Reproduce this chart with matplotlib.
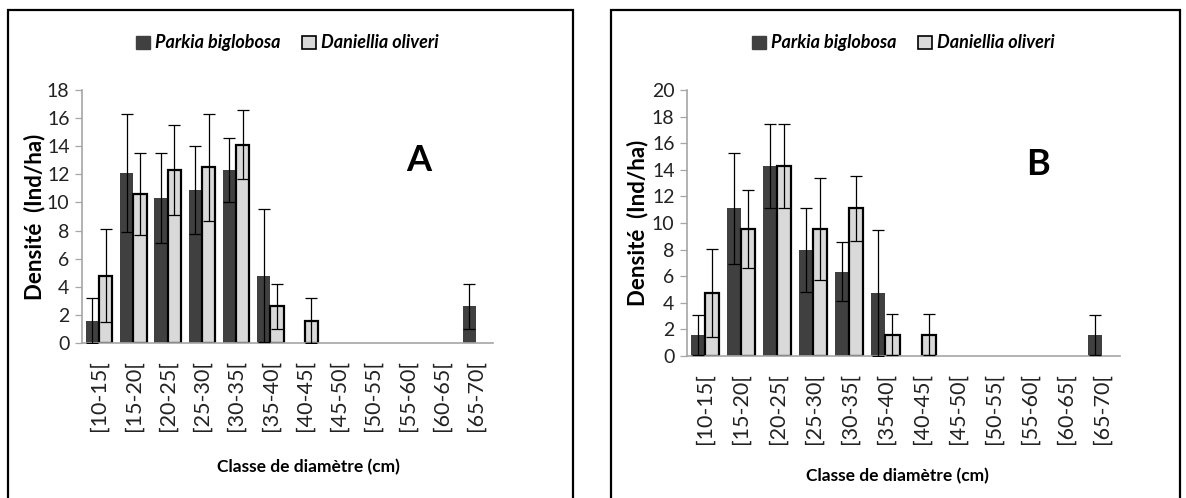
import numpy as np
import matplotlib
matplotlib.use('Agg')
import matplotlib.pyplot as plt
from matplotlib.patches import Rectangle

# data
classes = ['[10-15[', '[15-20[', '[20-25[', '[25-30[', '[30-35[', '[35-40[',
           '[40-45[', '[45-50[', '[50-55[', '[55-60[', '[60-65[', '[65-70[']

parkia_a = [1.6, 12.1, 10.3, 10.9, 12.3, 4.8, 0, 0, 0, 0, 0, 2.6]
parkia_a_err = [1.6, 4.2, 3.2, 3.15, 2.25, 4.7, 0, 0, 0, 0, 0, 1.6]
daniellia_a = [4.8, 10.6, 12.3, 12.5, 14.1, 2.6, 1.6, 0, 0, 0, 0, 0]
daniellia_a_err = [3.3, 2.9, 3.2, 3.8, 2.45, 1.6, 1.6, 0, 0, 0, 0, 0]

parkia_b = [1.6, 11.1, 14.3, 7.95, 6.35, 4.75, 0, 0, 0, 0, 0, 1.6]
parkia_b_err = [1.5, 4.2, 3.15, 3.15, 2.25, 4.75, 0, 0, 0, 0, 0, 1.5]
daniellia_b = [4.75, 9.55, 14.3, 9.55, 11.1, 1.6, 1.6, 0, 0, 0, 0, 0]
daniellia_b_err = [3.3, 2.9, 3.15, 3.8, 2.45, 1.55, 1.55, 0, 0, 0, 0, 0]

species = ['Parkia biglobosa', 'Daniellia oliveri']

plt.rcParams['font.family'] = ['Lato', 'DejaVu Sans']

DARK = '#404040'
LIGHT = '#d9d9d9'
AXIS_GREY = '#a6a6a6'
W = 0.39


def draw_bars(ax, x, vals, errs, offset, color, edge, lw):
    vals = np.asarray(vals)
    errs = np.asarray(errs)
    keep = vals > 0   # empty classes are not drawn
    ax.bar(x[keep] + offset, vals[keep], width=W, color=color,
           edgecolor=edge, linewidth=lw, zorder=2)
    ax.errorbar(x[keep] + offset, vals[keep], yerr=errs[keep], fmt='none',
                ecolor='black', elinewidth=0.9, capsize=4, capthick=0.9, zorder=3)


def draw_panel(fig, rect, parkia, parkia_err, daniellia, daniellia_err, ymax, letter,
               letter_pos, xlabel_xy, legend_y):
    ax = fig.add_axes(rect)
    x = np.arange(len(classes))
    draw_bars(ax, x, parkia, parkia_err, -W / 2, DARK, DARK, 0)
    draw_bars(ax, x, daniellia, daniellia_err, W / 2, LIGHT, 'black', 1.6)

    ax.set_xlim(-0.5, len(classes) - 0.5)
    ax.set_ylim(0, ymax)
    ax.set_yticks(np.arange(0, ymax + 1, 2))
    ax.set_xticks(x)
    ax.set_xticklabels(classes, rotation=90, fontsize=15.5, color='#222222')
    ax.tick_params(axis='x', length=0, pad=12)
    ax.tick_params(axis='y', labelsize=14, colors=AXIS_GREY, labelcolor='#222222',
                   length=5, width=0.9, pad=4)

    for s in ['top', 'right']:
        ax.spines[s].set_visible(False)
    for s in ['left', 'bottom']:
        ax.spines[s].set_color(AXIS_GREY)
        ax.spines[s].set_linewidth(1.2)

    ax.set_ylabel('Densité  (Ind/ha)', fontsize=16, fontweight='bold')
    ax.yaxis.set_label_coords(-0.09, 0.5)
    ax.set_xlabel('Classe de diamètre (cm)', fontsize=12.5, fontweight='bold')
    ax.xaxis.set_label_coords(*xlabel_xy)
    ax.xaxis.label.set_verticalalignment('center')
    ax.text(letter_pos[0], letter_pos[1], letter, transform=ax.transAxes,
            fontsize=26, fontweight='bold', ha='center', va='center')

    handles = [Rectangle((0, 0), 1, 1, facecolor=DARK, edgecolor=DARK),
               Rectangle((0, 0), 1, 1, facecolor=LIGHT, edgecolor='black', linewidth=1.2)]
    ax.legend(handles, species, loc='center', bbox_to_anchor=(0.5, legend_y), ncol=2,
              frameon=False, prop={'weight': 'bold', 'style': 'italic', 'size': 13},
              handlelength=0.75, handleheight=0.75, handletextpad=0.3, columnspacing=1.2)
    return ax


fig = plt.figure(figsize=(11.86, 4.98), dpi=100)

# panel frames
fig.patches.append(Rectangle((8 / 1186, -0.05), 565 / 1186, 1.05 - 10 / 498,
                             transform=fig.transFigure, fill=False,
                             edgecolor='black', linewidth=1.6, clip_on=False))
fig.patches.append(Rectangle((611 / 1186, -0.05), 569 / 1186, 1.05 - 10 / 498,
                             transform=fig.transFigure, fill=False,
                             edgecolor='black', linewidth=1.6, clip_on=False))

draw_panel(fig, [82 / 1186, 155 / 498, 411 / 1186, 253 / 498],
           parkia_a, parkia_a_err, daniellia_a, daniellia_a_err, 18, 'A', (0.82, 0.72),
           (0.55, -0.49), 1.186)
draw_panel(fig, [687 / 1186, 142 / 498, 433 / 1186, 266 / 498],
           parkia_b, parkia_b_err, daniellia_b, daniellia_b_err, 20, 'B', (0.81, 0.72),
           (0.485, -0.45), 1.177)

fig.savefig('out.png', dpi=100)
